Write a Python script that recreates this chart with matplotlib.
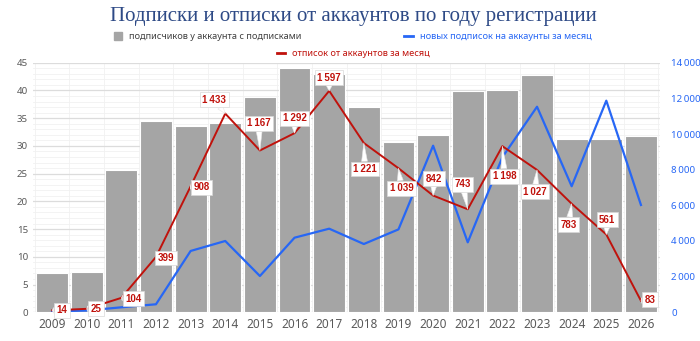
import numpy as np
import matplotlib.pyplot as plt
from matplotlib.patches import Patch
from matplotlib.lines import Line2D
from matplotlib.ticker import MultipleLocator, FuncFormatter

plt.rcParams['font.family'] = ['Noto Sans', 'DejaVu Sans']

# данные
years = [2009, 2010, 2011, 2012, 2013, 2014, 2015, 2016, 2017,
         2018, 2019, 2020, 2021, 2022, 2023, 2024, 2025, 2026]
subs_per_acc = [7.0, 7.3, 25.6, 34.5, 33.6, 34.2, 38.8, 44.0, 43.0,
                37.0, 30.7, 32.0, 39.9, 40.0, 42.7, 31.2, 31.3, 31.8]
new_subs = [50, 100, 280, 450, 3440, 4000, 2035, 4185, 4690,
            3830, 4650, 9345, 3925, 8700, 11530, 7070, 11870, 6020]
unsubs = [14, 25, 104, 399, 908, 1433, 1167, 1292, 1597,
          1221, 1039, 842, 743, 1198, 1027, 783, 561, 83]
# смещение подписей (пиксели)
lbl_dx = [10, 9, 12, 10, 11, -11, -1, 0, 0, 1, 3, 1, -5, 2, -2, -3, 1, 9]
lbl_dy = [0, 0, -1, -1, -1, 14, 27, 15, 13, -26, -20, 17, 25, -30, -22, -21, 15, 1]

c_bar = '#a5a5a5'
c_blue = '#2767f5'
c_red = '#c0120c'
c_txt = '#595959'

fig = plt.figure(figsize=(7, 3.41), dpi=100)
ax = fig.add_axes([33/700, 1-312.3/341, 627/700, 249.6/341])
x = np.arange(len(years))

ax.bar(x, subs_per_acc, width=0.92, color=c_bar, edgecolor='white', linewidth=0.8, zorder=2)
ax.set_xlim(-0.55, len(years)-0.45)
ax.set_ylim(0, 45)
ax.yaxis.set_major_locator(MultipleLocator(5))
ax.yaxis.set_minor_locator(MultipleLocator(1))
ax.grid(axis='y', which='major', color='#dcdcdc', lw=0.9, zorder=0)
ax.grid(axis='y', which='minor', color='#f1f1f1', lw=0.6, zorder=0)
ax.set_xticks(x)
ax.set_xticklabels([str(y) for y in years], fontsize=8.5, color=c_txt)
ax.set_xticks(np.arange(len(years)+1)-0.5, minor=True)
ax.grid(axis='x', which='minor', color='#f1f1f1', lw=0.6, zorder=0)
ax.tick_params(axis='y', labelsize=7, colors=c_txt, length=0, which='both')
ax.tick_params(axis='x', length=0, which='both', pad=4)
for s in ax.spines.values():
    s.set_visible(False)

ax2 = ax.twinx()
ax2.plot(x, new_subs, color=c_blue, lw=1.6, zorder=3)
ax2.set_ylim(0, 14000)
ax2.yaxis.set_major_locator(MultipleLocator(2000))
ax2.yaxis.set_major_formatter(FuncFormatter(lambda v, p: f'{int(v):,}'.replace(',', '\u2009')))
ax2.tick_params(axis='y', labelsize=7, colors=c_blue, length=0, pad=8)
for s in ax2.spines.values():
    s.set_visible(False)

ax3 = ax.twinx()
ax3.plot(x, unsubs, color=c_red, lw=1.4, zorder=3)
ax3.set_ylim(0, 1800)
ax3.axis('off')
for xi, v, dx, dy in zip(x, unsubs, lbl_dx, lbl_dy):
    txt = f'{v:,}'.replace(',', '\u2009')
    ax3.annotate(txt, (xi, v), xytext=(dx*0.72, dy*0.72), textcoords='offset points',
                 ha='center', va='center', fontsize=7, fontweight='bold', color=c_red,
                 family='Liberation Sans',
                 bbox=dict(boxstyle='square,pad=0.25', fc='white', ec='#d9d9d9', lw=0.5),
                 arrowprops=dict(arrowstyle='wedge,tail_width=0.6', fc='white', ec='#e6e6e6',
                                 lw=0.4, shrinkA=0, shrinkB=0),
                 zorder=5)

fig.text(0.505, 0.952, 'Подписки и отписки от аккаунтов по году регистрации',
         ha='center', va='center', fontsize=15, color='#2e4a86', family='Liberation Serif')

leg1 = fig.legend(handles=[Patch(color=c_bar, label='подписчиков у аккаунта с подписками'),
                           Line2D([], [], color=c_blue, lw=2, label='новых подписок на аккаунты за месяц')],
                  loc='center', bbox_to_anchor=(0.504, 0.893), ncol=2, frameon=False, fontsize=6.6,
                  columnspacing=11.2, handlelength=0.9, handleheight=0.9, handletextpad=0.8,
                  labelcolor=['#404040', c_blue])
leg2 = fig.legend(handles=[Line2D([], [], color=c_red, lw=2, label='отписок от аккаунтов за месяц')],
                  loc='center', bbox_to_anchor=(0.505, 0.843), frameon=False, fontsize=6.6,
                  handlelength=0.9, handletextpad=0.8, labelcolor=[c_red])

fig.savefig('out.png', dpi=100)
